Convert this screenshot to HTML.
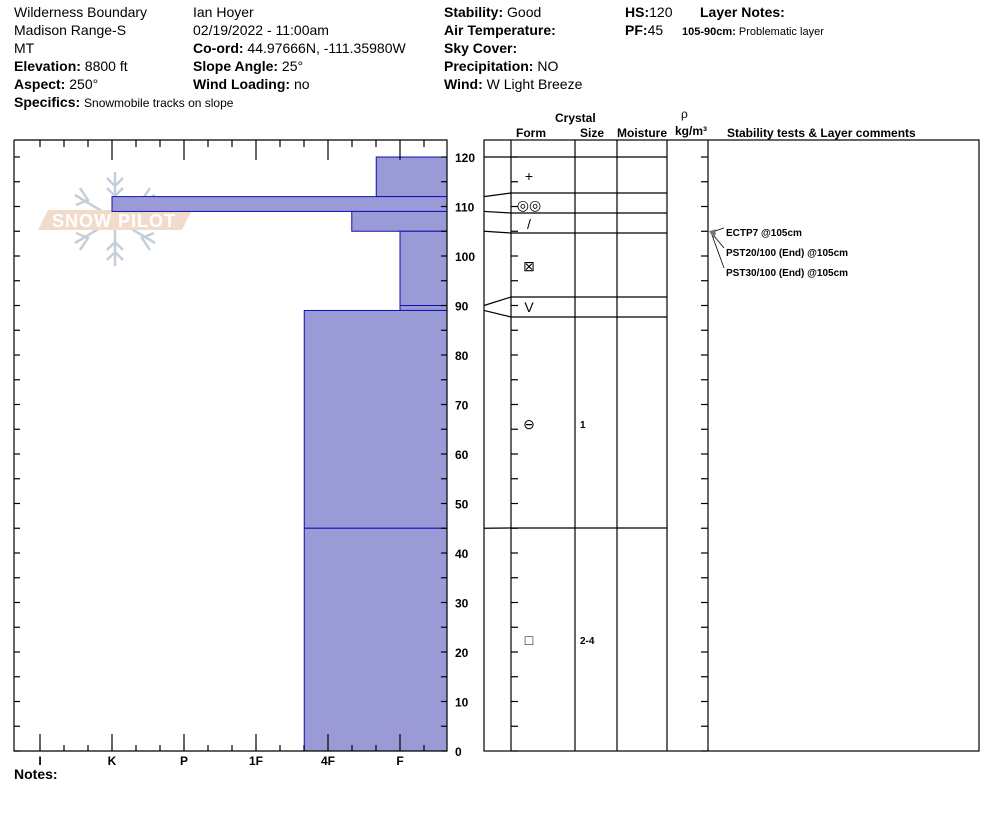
<!DOCTYPE html>
<html><head><meta charset="utf-8">
<style>
body{margin:0;width:994px;height:840px;background:#fff;font-family:"Liberation Sans",Arial,sans-serif;overflow:hidden}
svg{position:absolute;left:0;top:0}
text{font-family:"Liberation Sans",Arial,sans-serif}
</style></head><body>
<svg id="chart" width="994" height="840" viewBox="0 0 994 840">
<g font-size="14" fill="#000">
<text x="14" y="17">Wilderness Boundary</text>
<text x="14" y="35">Madison Range-S</text>
<text x="14" y="53">MT</text>
<text x="14" y="71"><tspan font-weight="bold">Elevation:</tspan> 8800 ft</text>
<text x="14" y="89"><tspan font-weight="bold">Aspect:</tspan> 250°</text>
<text x="14" y="107"><tspan font-weight="bold">Specifics:</tspan> <tspan font-size="12">Snowmobile tracks on slope</tspan></text>
<text x="193" y="17">Ian Hoyer</text>
<text x="193" y="35">02/19/2022 - 11:00am</text>
<text x="193" y="53"><tspan font-weight="bold">Co-ord:</tspan> 44.97666N, -111.35980W</text>
<text x="193" y="71"><tspan font-weight="bold">Slope Angle:</tspan> 25°</text>
<text x="193" y="89"><tspan font-weight="bold">Wind Loading:</tspan> no</text>
<text x="444" y="17"><tspan font-weight="bold">Stability:</tspan> Good</text>
<text x="444" y="35" font-weight="bold">Air Temperature:</text>
<text x="444" y="53" font-weight="bold">Sky Cover:</text>
<text x="444" y="71"><tspan font-weight="bold">Precipitation:</tspan> NO</text>
<text x="444" y="89"><tspan font-weight="bold">Wind:</tspan>  W Light Breeze</text>
<text x="625" y="17"><tspan font-weight="bold">HS:</tspan>120</text>
<text x="625" y="35"><tspan font-weight="bold">PF:</tspan>45</text>
<text x="700" y="17" font-weight="bold">Layer Notes:</text>
<text x="682" y="35" font-size="11"><tspan font-weight="bold">105-90cm:</tspan> Problematic layer</text>
</g>
<g font-size="12" font-weight="bold">
<text x="555" y="122">Crystal</text>
<text x="681" y="118" font-weight="normal">ρ</text>
<text x="516" y="137">Form</text>
<text x="580" y="137">Size</text>
<text x="617" y="137">Moisture</text>
<text x="675" y="135">kg/m³</text>
<text x="727" y="137">Stability tests &amp; Layer comments</text>
</g>
<g id="logo" opacity="0.5">
<g stroke="#8aa0b4" stroke-width="2.5" fill="none">
<line x1="115" y1="172" x2="115" y2="266"/>
<line x1="75" y1="195" x2="155" y2="243"/>
<line x1="75" y1="243" x2="155" y2="195"/>
<polyline points="107,178 115,186 123,178"/><polyline points="107,188 115,196 123,188"/>
<polyline points="107,260 115,252 123,260"/><polyline points="107,250 115,242 123,250"/>
<polyline points="80,188 88,200 76,205"/><polyline points="150,188 142,200 154,205"/>
<polyline points="80,250 88,238 76,233"/><polyline points="150,250 142,238 154,233"/>
</g>
<polygon points="38,230 48,210 192,210 182,230" fill="#e8b898"/>
<text x="114" y="227" font-size="18" fill="#fff" text-anchor="middle" font-weight="bold" letter-spacing="1">SNOW PILOT</text>
</g>
<g id="bars"></g>
<g id="axes" stroke="#000" stroke-width="1.2" fill="none"></g>
<g id="labels" font-size="12" font-weight="bold"></g>
<text x="14" y="779" font-size="14" font-weight="bold">Notes:</text>
</svg>
<script>
const hardLabels=["I","K","P","1F","4F","F"];
const layerTop=[120,112,109,105,90,89,45];
const layerBot=[112,109,105,90,89,45,0];
const layerHard=[4.67,1,4.33,5,5,3.67,3.67];
const heightTicks=[0,10,20,30,40,50,60,70,80,90,100,110,120];
const displayLines=[[120,157],[112,193],[109,213],[105,233],[90,297],[89,317],[45,528]];
const crystalForms=["+","◎◎","/","⊠","V","⊖","□"];
const formY=[176,205,224,266,307,424,640];
const crystalSizes=["","","","","","1","2-4"];
const tests=["ECTP7 @105cm","PST20/100 (End) @105cm","PST30/100 (End) @105cm"];
const testDepth=105;
const NS="http://www.w3.org/2000/svg";
const y=h=>751-h*4.95;
const x=hd=>40+hd*72;
function mk(tag,attrs,parent){const e=document.createElementNS(NS,tag);for(const k in attrs)e.setAttribute(k,attrs[k]);parent.appendChild(e);return e;}
const bars=document.getElementById('bars'),ax=document.getElementById('axes'),lb=document.getElementById('labels');
layerTop.forEach((t,i)=>{const r=mk('rect',{x:x(layerHard[i]),y:y(t),width:447-x(layerHard[i]),height:y(layerBot[i])-y(t),fill:"#9a9ad6",stroke:"#1010b0","stroke-width":1},bars);

});
mk('polyline',{points:"14,140 447,140 447,751 14,751 14,140"},ax);
for(let i=0;i<=16;i++){const xx=x(i/3);const maj=i%3==0;
 mk('line',{x1:xx,y1:751,x2:xx,y2:751-(maj?17:6)},ax);
 mk('line',{x1:xx,y1:140,x2:xx,y2:140+(maj&&i>0?20:7)},ax);}
for(let h=0;h<=120;h+=5){mk('line',{x1:14,y1:y(h),x2:20,y2:y(h)},ax);mk('line',{x1:447,y1:y(h),x2:441,y2:y(h)},ax);
 mk('line',{x1:511,y1:y(h),x2:518,y2:y(h)},ax);mk('line',{x1:708,y1:y(h),x2:701,y2:y(h)},ax);}
hardLabels.forEach((l,i)=>{const t=mk('text',{x:x(i),y:765,"text-anchor":"middle"},lb);t.textContent=l;

});
heightTicks.forEach(h=>{const t=mk('text',{x:455,y:y(h)+5},lb);t.textContent=h;

});
mk('rect',{x:484,y:140,width:495,height:611},ax);
[511,575,617,667,708].forEach(c=>mk('line',{x1:c,y1:140,x2:c,y2:751},ax));
displayLines.forEach(d=>{mk('line',{x1:484,y1:y(d[0]),x2:511,y2:d[1]},ax);mk('line',{x1:511,y1:d[1],x2:667,y2:d[1]},ax);});
crystalForms.forEach((f,i)=>{const t=mk('text',{x:529,y:formY[i]+5,"text-anchor":"middle","font-weight":"normal","font-size":14},lb);t.textContent=f;


if(crystalSizes[i]){const s=mk('text',{x:580,y:formY[i]+4,"font-size":10},lb);s.textContent=crystalSizes[i];

}});
tests.forEach((tt,i)=>{const ty=232+i*20;
 mk('line',{x1:724,y1:ty-4,x2:711,y2:y(testDepth)+1,stroke:"#000","stroke-width":0.8},ax);
 mk('polygon',{points:`${709},${y(testDepth)} ${716},${y(testDepth)-2+i*2} ${714},${y(testDepth)+3+i*2}`,fill:"#777",stroke:"none"},ax);
 const t=mk('text',{x:726,y:ty+4,"font-size":10},lb);t.textContent=tt;
 
 });
</script>
</body></html>
